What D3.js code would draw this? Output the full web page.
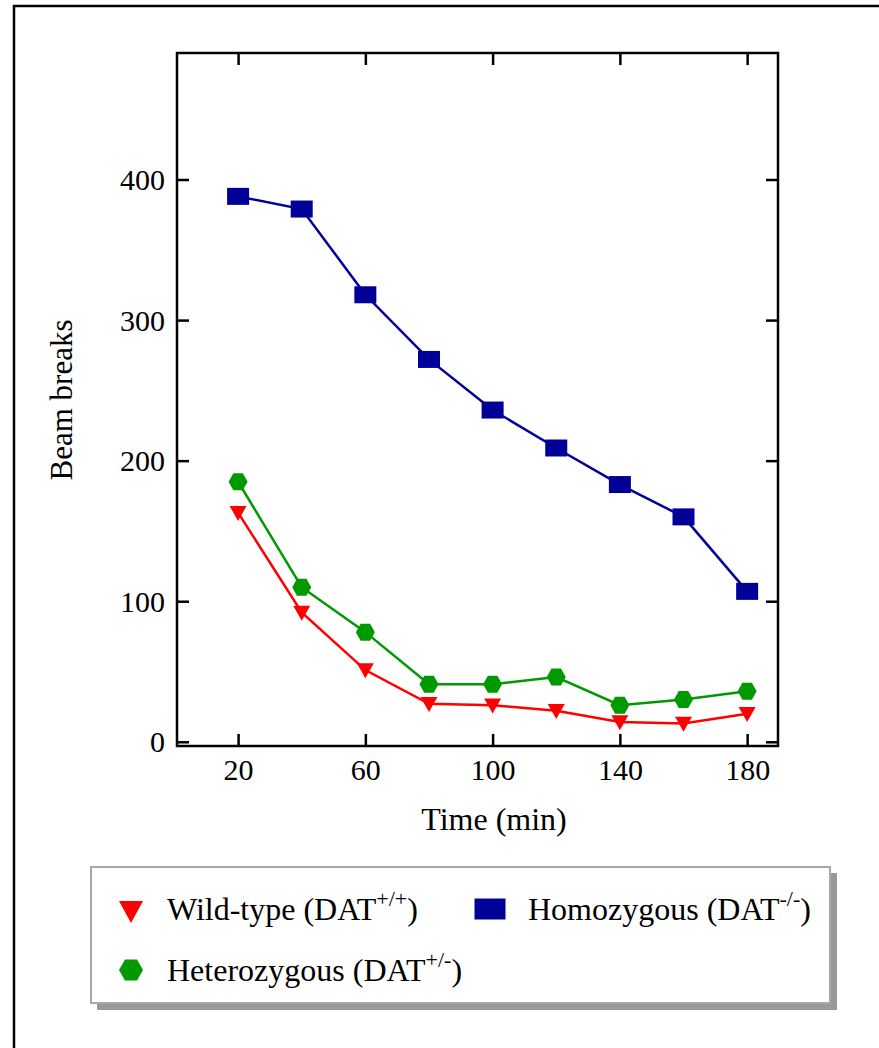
<!DOCTYPE html>
<html>
<head>
<meta charset="utf-8">
<script src="https://cdn.jsdelivr.net/npm/d3@7"></script>
<style>
  body { margin: 0; background: #fff; }
  svg { display: block; font-family: "Liberation Serif", "Times New Roman", serif; }
</style>
</head>
<body>
<svg id="svg" width="879" height="1048"></svg>
<script>
// data
const times = [20, 40, 60, 80, 100, 120, 140, 160, 180];
const wildType = [163, 92, 51, 27, 26, 22, 14, 13, 20];
const heterozygous = [185, 110, 78, 41, 41, 46, 26, 30, 36];
const homozygous = [388, 379, 318, 272, 236, 209, 183, 160, 107];
const xTicks = [20, 60, 100, 140, 180];
const yTicks = [0, 100, 200, 300, 400];

const svg = d3.select('#svg');

// outer frame
svg.append('rect').attr('x', 14).attr('y', 6).attr('width', 900).attr('height', 1100)
  .attr('fill', 'none').attr('stroke', '#000').attr('stroke-width', 2.5);

const pLeft = 177, pRight = 778, pTop = 53, pBottom = 746;
const x = d3.scaleLinear().domain([0.8, 189.7]).range([pLeft, pRight]);
const y = d3.scaleLinear().domain([-3, 490]).range([pBottom, pTop]);

const g = svg.append('g');

// inward ticks on all four sides
const tickLen = 12;
const axB = d3.axisBottom(x).tickValues(xTicks).tickSizeInner(-tickLen).tickSizeOuter(0).tickPadding(tickLen + 10);
const axT = d3.axisTop(x).tickValues(xTicks).tickSizeInner(-tickLen).tickSizeOuter(0).tickFormat('');
const axL = d3.axisLeft(y).tickValues(yTicks).tickSizeInner(-tickLen).tickSizeOuter(0).tickPadding(tickLen + 12);
const axR = d3.axisRight(y).tickValues(yTicks).tickSizeInner(-tickLen).tickSizeOuter(0).tickFormat('');

const styleAxis = (sel) => {
  sel.attr('font-family', null).attr('font-size', null);
  sel.select('.domain').remove();
  sel.selectAll('line').attr('stroke', '#000').attr('stroke-width', 2.5);
  sel.selectAll('text').attr('font-size', 30).attr('fill', '#000');
};
g.append('g').attr('transform', `translate(0,${pBottom})`).call(axB).call(styleAxis)
  .selectAll('text').attr('dy', null).attr('y', 34);
g.append('g').attr('transform', `translate(0,${pTop})`).call(axT).call(styleAxis);
g.append('g').attr('transform', `translate(${pLeft},0)`).call(axL).call(styleAxis)
  .selectAll('text').attr('x', -12).attr('dy', '0.34em');
g.append('g').attr('transform', `translate(${pRight},0)`).call(axR).call(styleAxis);

g.append('rect').attr('x', pLeft).attr('y', pTop).attr('width', pRight - pLeft).attr('height', pBottom - pTop)
  .attr('fill', 'none').attr('stroke', '#000').attr('stroke-width', 2.5);

// axis titles
svg.append('text').attr('x', 494).attr('y', 830).attr('text-anchor', 'middle')
  .attr('font-size', 32).text('Time (min)');
svg.append('text').attr('transform', 'translate(72,400) rotate(-90)').attr('text-anchor', 'middle')
  .attr('font-size', 31).text('Beam breaks');

// markers
const tri = (w, h) => `M${-w / 2},${-h * 0.45}L${w / 2},${-h * 0.45}L0,${h * 0.55}Z`;
const hex = (w, h) => `M${-w / 2},0L${-w / 4},${-h / 2}L${w / 4},${-h / 2}L${w / 2},0L${w / 4},${h / 2}L${-w / 4},${h / 2}Z`;
const rect = (w, h) => `M${-w / 2},${-h / 2}h${w}v${h}h${-w}Z`;

const series = [
  { name: 'wt', values: wildType, color: '#ff0000', shape: () => tri(17, 15), big: () => tri(24, 22) },
  { name: 'het', values: heterozygous, color: '#009900', shape: () => hex(19, 17), big: () => hex(24, 21) },
  { name: 'hom', values: homozygous, color: '#000099', shape: () => rect(22, 17), big: () => rect(31, 21) }
];

const line = d3.line().x((d) => x(d[0])).y((d) => y(d[1]));

series.forEach((s) => {
  const pts = times.map((t, i) => [t, s.values[i]]);
  g.append('path').attr('d', line(pts)).attr('fill', 'none')
    .attr('stroke', s.color).attr('stroke-width', 2.5);
  g.selectAll('.m-' + s.name).data(pts).enter().append('path')
    .attr('class', 'm-' + s.name)
    .attr('transform', (d) => `translate(${x(d[0])},${y(d[1])})`)
    .attr('d', s.shape).attr('fill', s.color);
});

// legend
const lg = svg.append('g');
lg.append('rect').attr('x', 97).attr('y', 873).attr('width', 740).attr('height', 137).attr('fill', '#999');
lg.append('rect').attr('x', 91).attr('y', 867).attr('width', 739).attr('height', 136)
  .attr('fill', '#fff').attr('stroke', '#a8a8a8').attr('stroke-width', 2);

const legendItems = [
  { s: series[0], x: 131, y: 911, tx: 167, ty: 920, label: 'Wild-type (DAT', sup: '+/+' },
  { s: series[2], x: 490, y: 909, tx: 528, ty: 920, label: 'Homozygous (DAT', sup: '-/-' },
  { s: series[1], x: 131, y: 970, tx: 167, ty: 981, label: 'Heterozygous (DAT', sup: '+/-' }
];
legendItems.forEach((it) => {
  lg.append('path').attr('transform', `translate(${it.x},${it.y})`).attr('d', it.s.big()).attr('fill', it.s.color);
  const t = lg.append('text').attr('x', it.tx).attr('y', it.ty).attr('font-size', 32);
  t.append('tspan').text(it.label);
  t.append('tspan').attr('font-size', 22).attr('dy', -14).text(it.sup);
  t.append('tspan').attr('dy', 14).text(')');
});
</script>
</body>
</html>
